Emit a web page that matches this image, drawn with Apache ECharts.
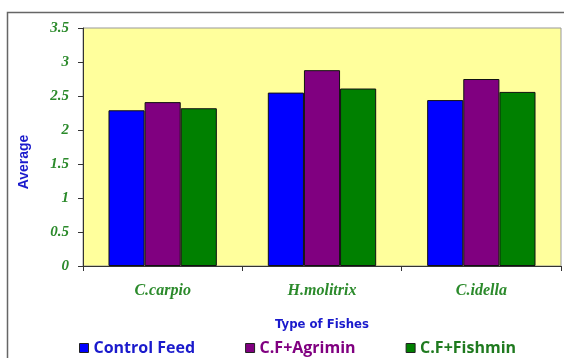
<!DOCTYPE html>
<html>
<head>
<meta charset="utf-8">
<script src="https://cdn.jsdelivr.net/npm/echarts@6/dist/echarts.min.js"></script>
<style>
  html, body { margin: 0; padding: 0; background: #fff; }
  #chart { width: 564px; height: 358px; }
</style>
</head>
<body>
<div id="chart"></div>
<script>
const fishes = ['C.carpio', 'H.molitrix', 'C.idella']
const controlFeed = [2.29, 2.55, 2.44]
const cfAgrimin = [2.41, 2.88, 2.75]
const cfFishmin = [2.32, 2.61, 2.56]
const yTicks = [0, 0.5, 1, 1.5, 2, 2.5, 3, 3.5]

const chart = echarts.init(document.getElementById('chart'))

const barStyle = color => ({ color: color, borderColor: '#111', borderWidth: 1 })

const option = {
  animation: false,
  backgroundColor: '#fff',
  graphic: [{
    type: 'rect',
    shape: { x: 7.5, y: 12.5, width: 600, height: 400 },
    style: { fill: 'none', stroke: '#666', lineWidth: 1.5 }
  }],
  grid: {
    left: 83, right: 3, top: 28, bottom: 92,
    show: true,
    backgroundColor: '#ffff9c',
    borderColor: '#999',
    borderWidth: 1
  },
  legend: {
    top: 335,
    left: 74,
    itemWidth: 9,
    itemHeight: 9,
    itemGap: 50,
    icon: 'rect',
    itemStyle: { borderColor: '#222', borderWidth: 1 },
    textStyle: { fontFamily: 'Open Sans', fontWeight: 'bold', fontSize: 16 },
    data: [
      { name: 'Control Feed', textStyle: { color: '#1a1acc' } },
      { name: 'C.F+Agrimin', textStyle: { color: '#800080' } },
      { name: 'C.F+Fishmin', textStyle: { color: '#1f7a1f' } }
    ]
  },
  xAxis: {
    type: 'category',
    data: fishes,
    name: 'Type of Fishes',
    nameLocation: 'middle',
    nameGap: 52,
    nameTextStyle: { color: '#1a1acc', fontFamily: 'DejaVu Sans Condensed', fontWeight: 'bold', fontSize: 13 },
    axisLine: { lineStyle: { color: '#333', width: 1 } },
    axisTick: { show: true, length: 5, lineStyle: { color: '#333' } },
    axisLabel: { color: '#2b8a2b', fontFamily: 'Liberation Serif', fontStyle: 'italic', fontWeight: 'bold', fontSize: 16, margin: 17 }
  },
  yAxis: {
    type: 'value',
    min: yTicks[0],
    max: yTicks[yTicks.length - 1],
    interval: 0.5,
    name: 'Average',
    nameLocation: 'middle',
    nameRotate: 90,
    nameGap: 52,
    nameTextStyle: { color: '#1a1acc', fontFamily: 'Liberation Sans', fontWeight: 'bold', fontSize: 14, padding: [0, 30, 0, 0] },
    splitLine: { show: false },
    axisLine: { show: true, lineStyle: { color: '#333', width: 1 } },
    axisTick: { show: true, length: 5, lineStyle: { color: '#333' } },
    axisLabel: { color: '#2b8a2b', fontFamily: 'Liberation Serif', fontStyle: 'italic', fontWeight: 'bold', fontSize: 15, margin: 14 }
  },
  series: [
    { name: 'Control Feed', type: 'bar', data: controlFeed, itemStyle: barStyle('#0000ff'), barGap: '0%', barCategoryGap: '32%' },
    { name: 'C.F+Agrimin', type: 'bar', data: cfAgrimin, itemStyle: barStyle('#800080') },
    { name: 'C.F+Fishmin', type: 'bar', data: cfFishmin, itemStyle: barStyle('#008000') }
  ]
}

chart.setOption(option)
</script>
</body>
</html>
